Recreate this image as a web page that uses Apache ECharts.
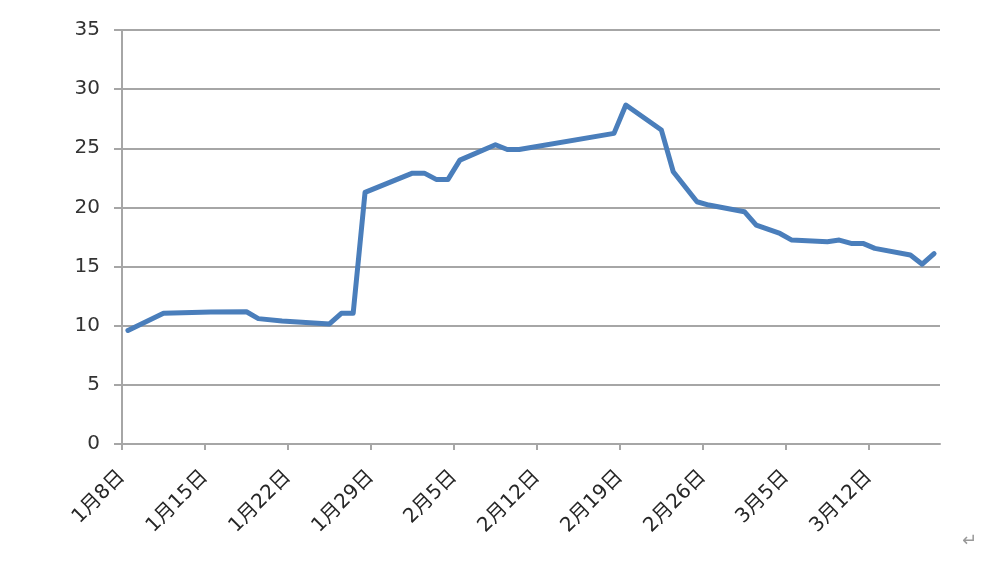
<!DOCTYPE html>
<html><head><meta charset="utf-8">
<script src="https://cdn.jsdelivr.net/npm/echarts@6/dist/echarts.min.js"></script>
<style>html,body{margin:0;padding:0;background:#fff}#c{width:1000px;height:564px}</style>
</head><body><div id="c"></div>
<script>
// Data (non-leap year; points sit in the middle of their day slot, as in Excel date axes)
const dates = ['1-8','1-11','1-15','1-18','1-19','1-21','1-25','1-26','1-27','1-28',
  '2-1','2-2','2-3','2-4','2-5','2-8','2-9','2-10','2-18','2-19','2-22','2-23','2-25','2-26',
  '3-1','3-2','3-4','3-5','3-8','3-9','3-10','3-11','3-12','3-15','3-16','3-17'];
const values = [9.6,11.05,11.15,11.18,10.6,10.4,10.15,11.05,11.05,21.27,
  22.9,22.9,22.37,22.37,24.0,25.3,24.9,24.9,26.26,28.66,26.54,23.02,20.48,20.2,
  19.64,18.5,17.8,17.24,17.1,17.24,16.96,16.96,16.54,15.98,15.2,16.1];
const xTickLabels = ['1月8日','1月15日','1月22日','1月29日','2月5日','2月12日','2月19日','2月26日','3月5日','3月12日'];

const YEAR = 2019;
const start = Date.UTC(YEAR,0,8);
const DAY = 86400000;
function dayIndex(s){ const [m,d]=s.split('-').map(Number); return (Date.UTC(YEAR,m-1,d)-start)/DAY; }
const seriesData = dates.map((s,i)=>[dayIndex(s)+0.5, values[i]]);
const tickVals = xTickLabels.map((_,i)=>i*7);

const chart = echarts.init(document.getElementById('c'));
const gray = '#a6a6a6';
chart.setOption({
  animation:false,
  backgroundColor:'#fff',
  grid:{left:122,right:60,top:30,bottom:120},
  xAxis:{
    type:'value', min:0, max:69, interval:7,
    axisLine:{show:true,lineStyle:{color:gray,width:2}},
    axisTick:{show:true,length:6,customValues:tickVals,lineStyle:{color:gray,width:2}},
    splitLine:{show:false},
    axisLabel:{customValues:tickVals,rotate:45,margin:30,color:'#262626',fontSize:20,
      fontFamily:'DejaVu Sans, Noto Sans CJK SC',
      formatter:(v)=>{const i=Math.round(v/7); return xTickLabels[i]||'';}}
  },
  yAxis:{
    type:'value', min:0, max:35, interval:5,
    axisLine:{show:true,lineStyle:{color:gray,width:2}},
    axisTick:{show:true,inside:false,length:8,lineStyle:{color:gray,width:2}},
    splitLine:{show:true,lineStyle:{color:gray,width:2}},
    axisLabel:{color:'#333',fontSize:20,margin:22,fontFamily:'DejaVu Sans'}
  },
  series:[{
    type:'line', data:seriesData, showSymbol:false, symbol:'none',
    lineStyle:{color:'#4a7ebb',width:5,cap:'round',join:'round'}
  }],
  graphic:[{type:'text',left:962,top:532,style:{text:'↵',fill:'#999',fontSize:18,fontFamily:'DejaVu Sans'}}]
});
</script></body></html>
